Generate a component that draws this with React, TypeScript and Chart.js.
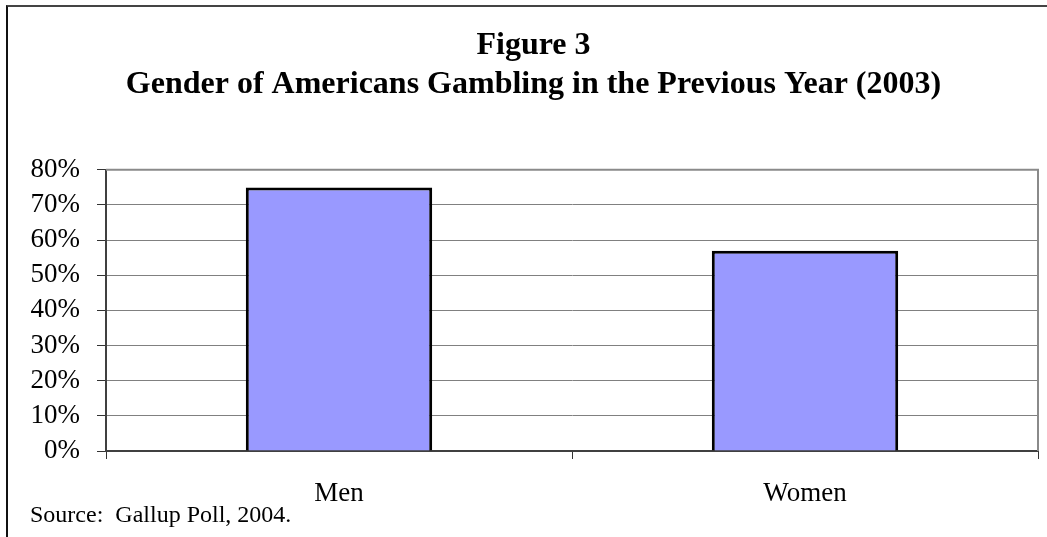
import React, { useEffect, useRef } from "react";
import { Chart, registerables } from "chart.js";

Chart.register(...registerables);

const categories = ["Men", "Women"];
const gamblingPct = [75, 57];
const yTickLabels = ["0%", "10%", "20%", "30%", "40%", "50%", "60%", "70%", "80%"];
const titleLines = ["Figure 3", "Gender of Americans Gambling in the Previous Year (2003)"];
const sourceNote = "Source:  Gallup Poll, 2004.";

const SERIF = "'Liberation Serif', 'Times New Roman', serif";

const plotBorder = {
  id: "plotBorder",
  beforeDatasetsDraw(chart: any) {
    const { ctx, chartArea } = chart;
    ctx.save();
    ctx.strokeStyle = "#8a8a8a";
    ctx.lineWidth = 2;
    ctx.beginPath();
    ctx.moveTo(chartArea.left, chartArea.top);
    ctx.lineTo(chartArea.right, chartArea.top);
    ctx.lineTo(chartArea.right, chartArea.bottom);
    ctx.stroke();
    ctx.restore();
  },
};

export default function App() {
  const ref = useRef<HTMLCanvasElement | null>(null);

  useEffect(() => {
    document.body.style.margin = "0";
    if (!ref.current) return;
    const chart = new Chart(ref.current, {
      type: "bar",
      data: {
        labels: categories,
        datasets: [
          {
            data: gamblingPct,
            backgroundColor: "#9999FF",
            borderColor: "#000000",
            borderWidth: 3,
            barPercentage: 0.4,
            categoryPercentage: 1,
          },
        ],
      },
      plugins: [plotBorder],
      options: {
        responsive: false,
        animation: false,
        layout: { padding: { left: 29, right: 9, top: 0, bottom: 0 } },
        plugins: {
          legend: { display: false },
          tooltip: { enabled: false },
          title: {
            display: true,
            text: titleLines,
            color: "#000",
            font: { family: SERIF, size: 32, weight: "bold", lineHeight: 1.2 },
            padding: { top: 27, bottom: 66 },
          },
        },
        scales: {
          x: {
            grid: {
              display: true,
              drawOnChartArea: false,
              offset: true,
              tickLength: 8,
              tickColor: (ctx: any) => (ctx.index === categories.length ? "rgba(0,0,0,0)" : "#333"),
              tickWidth: 1,
            },
            border: { display: true, color: "#404040", width: 2 },
            ticks: {
              color: "#000",
              font: { family: SERIF, size: 27, lineHeight: 1.2 },
              padding: 19,
              maxRotation: 0,
            },
            afterFit(scale: any) {
              scale.height = 86;
            },
          },
          y: {
            min: 0,
            max: 80,
            ticks: {
              stepSize: 10,
              autoSkip: false,
              color: "#000",
              font: { family: SERIF, size: 27, lineHeight: 1.2 },
              padding: 17,
              callback: (_v: any, i: number) => yTickLabels[i],
            },
            grid: {
              color: "#808080",
              lineWidth: 1,
              tickLength: 9,
              tickColor: "#333",
            },
            border: { display: true, color: "#404040", width: 2 },
            afterFit(scale: any) {
              scale.width = 77;
            },
          },
        },
      },
    });
    return () => chart.destroy();
  }, []);

  return (
    <div style={{ position: "relative", width: 1047, height: 537, background: "#fff", overflow: "hidden" }}>
      <canvas ref={ref} width={1047} height={537} style={{ position: "absolute", left: 0, top: 0 }} />
      <div
        style={{
          position: "absolute",
          left: 6,
          top: 5,
          right: -10,
          bottom: -10,
          borderTop: "2px solid #444",
          borderLeft: "2px solid #111",
          pointerEvents: "none",
        }}
      />
      <div
        style={{
          position: "absolute",
          left: 30,
          top: 502,
          fontFamily: SERIF,
          fontSize: 24,
          lineHeight: "24px",
          color: "#000",
          whiteSpace: "pre",
        }}
      >
        {sourceNote}
      </div>
    </div>
  );
}
